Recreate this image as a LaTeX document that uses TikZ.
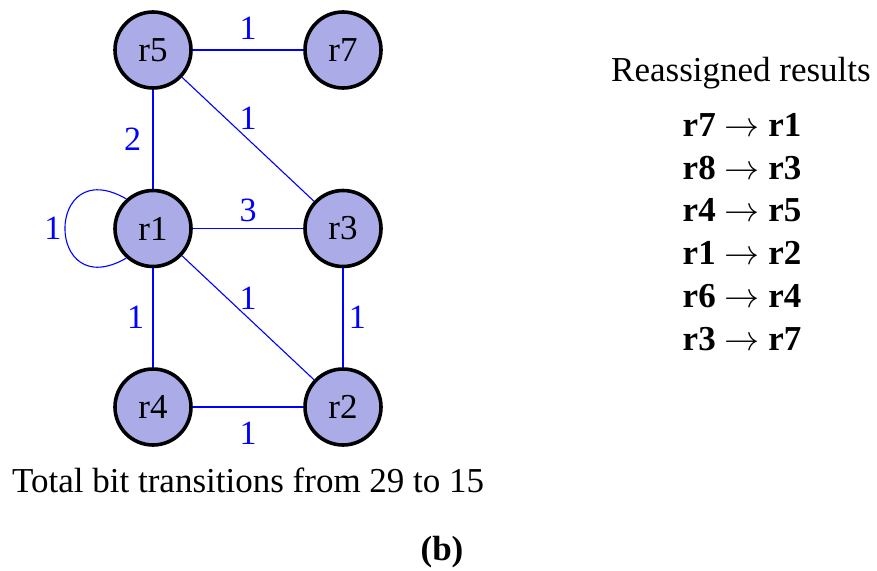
\RequirePackage{fix-cm}
\documentclass[tikz,border=0pt]{standalone}
\usepackage{fontspec}
\setmainfont{Liberation Serif}
\usetikzlibrary{positioning}
\definecolor{regfill}{RGB}{171,171,232}
\definecolor{wire}{RGB}{0,0,255}

\begin{document}
\begin{tikzpicture}[x=1pt,y=-1pt,
  node distance=178.5pt and 190pt,
  reg/.style={circle,on grid,draw=black,line width=3.6pt,fill=regfill,minimum size=76pt,inner sep=0pt,font=\fontsize{35}{42}\selectfont},
  link/.style={draw=wire,line width=1.8pt},
  slant/.style={draw=wire,line width=1.1pt},
  wt/.style={text=wire,inner sep=0pt,font=\fontsize{34}{40}\selectfont},
  txt/.style={inner sep=0pt,font=\fontsize{35}{42.8}\selectfont}]
  \useasboundingbox (0,0) rectangle (877,570);
  % register graph
  \node[reg] (r5) at (153,50) {r5};
  \node[reg,right=of r5] (r7) {r7};
  \node[reg,below=of r5] (r1) {r1};
  \node[reg,right=of r1] (r3) {r3};
  \node[reg,below=of r1] (r4) {r4};
  \node[reg,right=of r4] (r2) {r2};
  \draw[link] (r5) -- node[wt,above=10pt] {1} (r7);
  \draw[link] (r5) -- node[wt,left=11pt] {2} (r1);
  \draw[slant] (r5) -- node[wt,above=9pt] {1} (r3);
  \draw[link] (r1) -- node[wt,above=6pt] {3} (r3);
  \draw[slant] (r1.132) to[out=150,in=210,looseness=4.1] node[wt,left=3pt] {1} (r1.228);
  \draw[link] (r1) -- node[wt,left=8pt] {1} (r4);
  \draw[slant] (r1) -- node[wt,above=8pt] {1} (r2);
  \draw[link] (r3) -- node[wt,right=5pt] {1} (r2);
  \draw[link] (r4) -- node[wt,below=14pt] {1} (r2);
  % reassignment table
  \node[txt,anchor=base] (head) at (741,81) {Reassigned results};
  \node[txt,align=center,font=\fontsize{35}{42.8}\selectfont\bfseries] (remap) at (742,232)
    {r7 $\rightarrow$ r1\\r8 $\rightarrow$ r3\\r4 $\rightarrow$ r5\\r1 $\rightarrow$ r2\\r6 $\rightarrow$ r4\\r3 $\rightarrow$ r7};
  \node[txt,anchor=west] (total) at (12,480) {Total bit transitions from 29 to 15};
  \node[txt,anchor=base,font=\fontsize{35}{42.8}\selectfont\bfseries] (cap) at (442,560) {(b)};
\end{tikzpicture}
\end{document}
